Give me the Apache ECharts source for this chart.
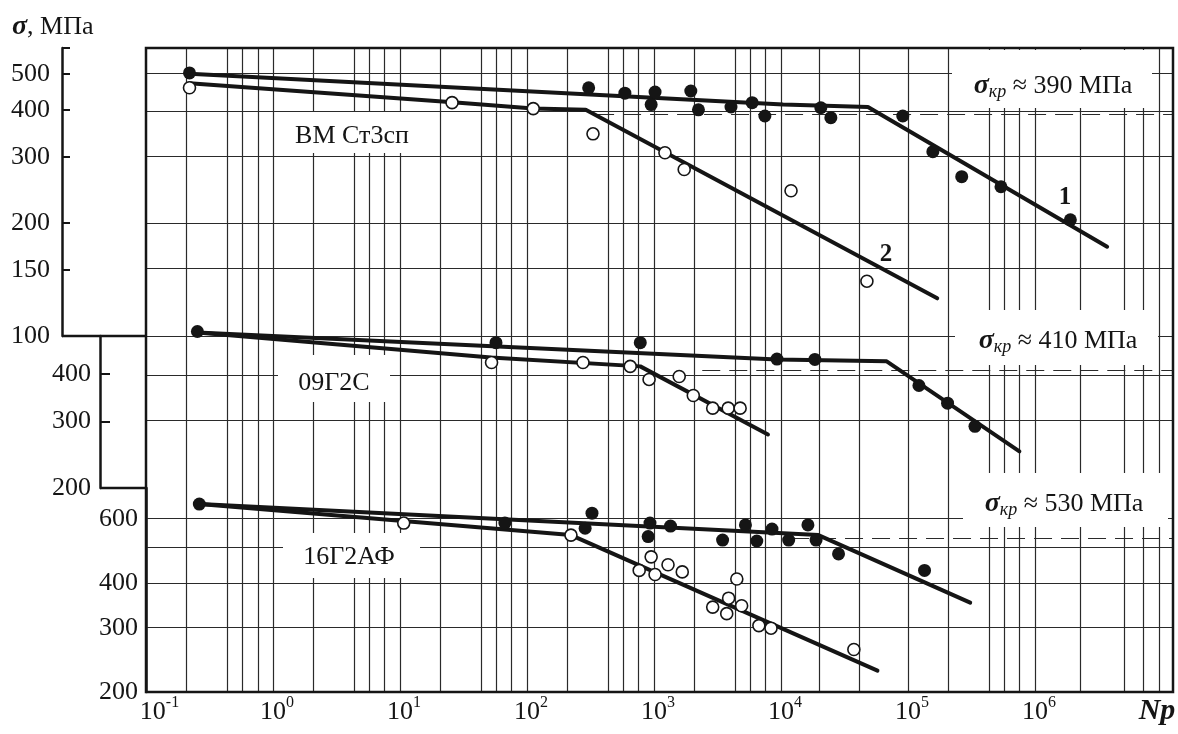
<!DOCTYPE html>
<html>
<head>
<meta charset="utf-8">
<script src="https://cdn.jsdelivr.net/npm/echarts@6.0.0/dist/echarts.min.js"></script>
<style>
  html, body { margin: 0; padding: 0; background: #fff; }
  #chart { width: 1178px; height: 734px; }
</style>
</head>
<body>
<div id="chart"></div>
<script>
// ---- Number of cycles N (x) and stress σ, MPa (y) ----

// ВМ Ст3сп (upper panel)
const st3FilledN = [0.22, 306, 590, 950, 1020, 1950, 2240, 4040, 5930, 7470, 20600, 24700, 91000, 157000, 265000, 540000, 1.9e6];
const st3FilledS = [503, 459, 444, 414, 447, 450, 401, 408, 419, 386, 406, 382, 386, 310, 266, 250, 204];
const st3OpenN = [0.22, 25.7, 112, 331, 1220, 1730, 12000, 47500];
const st3OpenS = [459, 419, 404, 346, 308, 278, 244, 140];
const st3Curve1N = [0.22, 10400, 48400, 3.7e6];
const st3Curve1S = [500, 414, 408, 173];
const st3Curve2N = [0.22, 26, 112, 290, 1.7e5];
const st3Curve2S = [472, 420, 404, 401, 126];
const st3Critical = 390;
const st3CriticalFromN = 350;

// 09Г2С (middle panel)
const g2cFilledN = [0.254, 57, 780, 9300, 18500, 122000, 205000, 337000];
const g2cFilledS = [518, 484, 484, 438, 437, 373, 335, 291];
const g2cOpenN = [52.6, 276, 650, 915, 1580, 2040, 2900, 3840, 4770];
const g2cOpenS = [429, 429, 419, 387, 394, 351, 325, 325, 325];
const g2cCurve1N = [0.254, 9300, 68000, 754000];
const g2cCurve1S = [515, 437, 432, 250];
const g2cCurve2N = [0.254, 52, 780, 7900];
const g2cCurve2S = [515, 442, 419, 277];
const g2cCritical = 410;
const g2cCriticalFromN = 2400;

// 16Г2АФ (lower panel)
const afFilledN = [0.263, 67, 287, 325, 900, 930, 1350, 3470, 5250, 6450, 8500, 11500, 16300, 18900, 28400, 135000];
const afFilledS = [660, 585, 566, 623, 537, 585, 574, 525, 578, 522, 563, 525, 578, 525, 481, 433];
const afOpenN = [10.7, 222, 765, 950, 1020, 1290, 1670, 2900, 3740, 3870, 4490, 4900, 6700, 8350, 37500];
const afOpenS = [585, 542, 433, 472, 422, 449, 429, 343, 329, 363, 410, 346, 305, 300, 262];
const afCurve1N = [0.263, 19700, 309000];
const afCurve1S = [660, 542, 353];
const afCurve2N = [0.263, 222, 57500];
const afCurve2S = [660, 542, 229];
const afCritical = 530;
const afCriticalFromN = 12000;

// ---- Axes: decades, rulings, tick labels ----
const decadeExponents = [-1, 0, 1, 2, 3, 4, 5, 6];
const verticalRulesN = [
  0.21, 0.44, 0.58, 0.76, 1,
  2.1, 4.4, 5.8, 7.6, 10,
  21, 44, 58, 76, 100,
  210, 440, 580, 760, 1e3,
  2.1e3, 4.4e3, 5.8e3, 7.6e3, 1e4,
  2e4, 4.2e4, 1e5,
  2.1e5, 4.4e5, 5.8e5, 7.6e5, 1e6,
  2.3e6, 5e6, 7e6, 9.6e6
];
const st3RangeS = [100, 586];
const g2cRangeS = [200, 504];
const afRangeS = [200, 731];
const st3RulesS = [100, 150, 200, 300, 400, 500];
const g2cRulesS = [200, 300, 400];
const afRulesS = [300, 400, 500, 600];
const st3TickLabels = [100, 150, 200, 300, 400, 500];
const st3Ticks = [150, 200, 300, 400, 500, 586];
const g2cTickLabels = [200, 300, 400];
const g2cTicks = [300, 400];
const afTickLabels = [200, 300, 400, 600];

// ---- Drawing ----
const lg = Math.log10;
const X_MIN = -1, X_MAX = 7.087;
const INK = '#151515';
const RULE = '#2a2a2a';
const SERIF = "'Liberation Serif', 'DejaVu Serif', 'Times New Roman', serif";

const pts = (ns, ss) => ns.map((n, k) => [lg(n), lg(ss[k])]);

const panels = [
  { grid: { top: 48, height: 288 }, range: st3RangeS, offset: 84, tickLen: 8, labelMargin: 12,
    ticks: st3Ticks, labels: st3TickLabels, rules: st3RulesS,
    filled: pts(st3FilledN, st3FilledS), open: pts(st3OpenN, st3OpenS),
    c1: pts(st3Curve1N, st3Curve1S), c2: pts(st3Curve2N, st3Curve2S),
    crit: st3Critical, critFrom: st3CriticalFromN },
  { grid: { top: 336, height: 152 }, range: g2cRangeS, offset: 46, tickLen: 10, labelMargin: 9,
    ticks: g2cTicks, labels: g2cTickLabels, rules: g2cRulesS,
    filled: pts(g2cFilledN, g2cFilledS), open: pts(g2cOpenN, g2cOpenS),
    c1: pts(g2cCurve1N, g2cCurve1S), c2: pts(g2cCurve2N, g2cCurve2S),
    crit: g2cCritical, critFrom: g2cCriticalFromN },
  { grid: { top: 488, height: 204 }, range: afRangeS, offset: 0, tickLen: 0, labelMargin: 8,
    ticks: [], labels: afTickLabels, rules: afRulesS,
    filled: pts(afFilledN, afFilledS), open: pts(afOpenN, afOpenS),
    c1: pts(afCurve1N, afCurve1S), c2: pts(afCurve2N, afCurve2S),
    crit: afCritical, critFrom: afCriticalFromN }
];

const grids = panels.map(p => ({ left: 146, right: 5, top: p.grid.top, height: p.grid.height }));

const xAxes = panels.map((p, i) => ({
  type: 'value', gridIndex: i, min: X_MIN, max: X_MAX,
  show: i === 2,
  axisLine: { show: false }, axisTick: { show: false }, splitLine: { show: false },
  axisLabel: i === 2 ? {
    customValues: decadeExponents,
    margin: 3,
    formatter: v => {
      const e = Math.round(v);
      return (e < 0 ? '{w2| }' : '{w1| }') + '{b|10}{s|' + e + '}';
    },
    rich: {
      b: { fontFamily: SERIF, fontSize: 26, color: INK, lineHeight: 30, verticalAlign: 'bottom' },
      s: { fontFamily: SERIF, fontSize: 16, color: INK, lineHeight: 18, verticalAlign: 'top' },
      w1: { width: 8, fontSize: 10 },
      w2: { width: 27, fontSize: 10 }
    }
  } : { show: false }
}));

const yAxes = panels.map((p, i) => ({
  type: 'value', gridIndex: i, position: 'left', offset: p.offset,
  min: lg(p.range[0]), max: lg(p.range[1]),
  splitLine: { show: false },
  axisLine: { show: true, onZero: false, lineStyle: { color: INK, width: 2.5 } },
  axisTick: { show: p.tickLen > 0, inside: true, length: p.tickLen,
              customValues: p.ticks.map(lg), lineStyle: { color: INK, width: 2 } },
  axisLabel: { customValues: p.labels.map(lg), margin: p.labelMargin,
               formatter: v => String(Math.round(Math.pow(10, v))),
               fontFamily: SERIF, fontSize: 26, color: INK }
}));

const series = [];
panels.forEach((p, i) => {
  const critY = lg(p.crit);
  series.push({
    type: 'line', xAxisIndex: i, yAxisIndex: i, data: p.c1, clip: false, z: 3,
    showSymbol: false, symbol: 'none', silent: true,
    lineStyle: { color: INK, width: 4, cap: 'round', join: 'round' },
    markLine: {
      silent: true, z: 1, animation: false, symbol: ['none', 'none'],
      label: { show: false }, emphasis: { disabled: true },
      lineStyle: { color: RULE, width: 1.2, type: 'solid' },
      data: [
        ...verticalRulesN.map(n => ({ xAxis: lg(n) })),
        ...p.rules.map(s => ({ yAxis: lg(s) })),
        [ { coord: [lg(p.critFrom), critY], lineStyle: { type: [18, 9], width: 1.2, color: RULE } },
          { coord: [X_MAX, critY] } ]
      ]
    }
  });
  series.push({
    type: 'line', xAxisIndex: i, yAxisIndex: i, data: p.c2, clip: false, z: 3,
    showSymbol: false, symbol: 'none', silent: true,
    lineStyle: { color: INK, width: 4, cap: 'round', join: 'round' }
  });
  series.push({
    type: 'scatter', xAxisIndex: i, yAxisIndex: i, data: p.filled, clip: false, z: 4,
    symbol: 'circle', symbolSize: 13, silent: true,
    itemStyle: { color: INK, opacity: 1 }
  });
  series.push({
    type: 'scatter', xAxisIndex: i, yAxisIndex: i, data: p.open, clip: false, z: 4,
    symbol: 'circle', symbolSize: 12, silent: true,
    itemStyle: { color: '#fff', borderColor: INK, borderWidth: 1.6, opacity: 1 }
  });
});

// Label boxes, captions, frame and axis brackets
const whiteBox = (x, y, w, h) => ({ type: 'rect', z: 10, silent: true,
  shape: { x, y, width: w, height: h }, style: { fill: '#fff' } });
const caption = (x, y, text, size, extra) => ({ type: 'text', z: 11, silent: true, x, y,
  style: Object.assign({ text, fontFamily: SERIF, fontSize: size, fill: INK,
    align: 'center', verticalAlign: 'middle' }, extra || {}) });
const critRich = {
  g: { fontFamily: SERIF, fontSize: 28, fontWeight: 'bold', fontStyle: 'italic', fill: INK, lineHeight: 30, verticalAlign: 'middle' },
  k: { fontFamily: SERIF, fontSize: 18, fontStyle: 'italic', fill: INK, lineHeight: 16, verticalAlign: 'bottom' },
  t: { fontFamily: SERIF, fontSize: 26, fill: INK, lineHeight: 30, verticalAlign: 'middle' }
};
const critLabel = (x, y, value) => caption(x, y, '{g|σ}{k|кр}{t| ≈ ' + value + ' МПа}', 26, { rich: critRich });
const line = (x1, y1, x2, y2) => ({ type: 'line', z: 20, silent: true,
  shape: { x1, y1, x2, y2 }, style: { stroke: INK, lineWidth: 2.5 } });

const graphic = [
  whiteBox(278, 112, 142, 41),
  whiteBox(278, 355, 112, 47),
  whiteBox(283, 533, 137, 45),
  whiteBox(952, 50, 200, 58),
  whiteBox(955, 310, 203, 55),
  whiteBox(963, 473, 205, 54),
  caption(352, 136, 'ВМ Ст3сп', 26),
  caption(334, 383, '09Г2С', 26),
  caption(349, 557, '16Г2АФ', 26),
  critLabel(1053, 86, st3Critical),
  critLabel(1058, 341, g2cCritical),
  critLabel(1064, 504, afCritical),
  caption(1065, 198, '1', 25, { fontWeight: 'bold' }),
  caption(886, 255, '2', 25, { fontWeight: 'bold' }),
  caption(1157, 711, 'Np', 30, { fontWeight: 'bold', fontStyle: 'italic' }),
  { type: 'text', z: 11, silent: true, x: 12, y: 27,
    style: { text: '{g|σ}{t|, МПа}', align: 'left', verticalAlign: 'middle',
      rich: {
        g: { fontFamily: SERIF, fontSize: 28, fontWeight: 'bold', fontStyle: 'italic', fill: INK, lineHeight: 30 },
        t: { fontFamily: SERIF, fontSize: 26, fill: INK, lineHeight: 30 }
      } } },
  { type: 'rect', z: 20, silent: true, shape: { x: 146, y: 48, width: 1027, height: 644 },
    style: { fill: 'none', stroke: INK, lineWidth: 2.5 } },
  line(62, 336, 146, 336),
  line(100, 488, 146, 488)
];

const chart = echarts.init(document.getElementById('chart'), null, { renderer: 'canvas' });
chart.setOption({
  animation: false,
  backgroundColor: '#fff',
  grid: grids,
  xAxis: xAxes,
  yAxis: yAxes,
  series,
  graphic
});
</script>
</body>
</html>
